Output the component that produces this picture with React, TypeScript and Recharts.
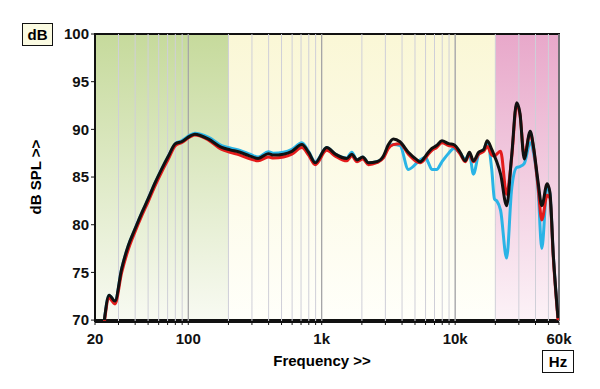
import React from 'react';
import {
  LineChart,
  Line,
  XAxis,
  YAxis,
  CartesianGrid,
  ReferenceArea,
  ReferenceLine,
} from 'recharts';

// frequency points (Hz)
const freqs = [
  23.5, 25.5, 28.2, 31.7, 35.5, 40, 45, 50, 56, 63, 71, 80, 89, 103, 112, 141, 178, 206, 244, 290,
  334, 398, 434, 517, 598, 710, 797, 894, 1090, 1265, 1540, 1680, 1840, 2030, 2240, 2580, 2900,
  3160, 3440, 3860, 4460, 5180, 5460, 6000, 6300, 6690, 7260, 7960, 8940, 9760, 10900, 11900,
  12800, 13700, 15000, 16400, 17400, 18800, 19700, 20500, 21900, 24300, 26500, 28900, 30600,
  32900, 36500, 38700, 41800, 44600, 48900, 51300, 54400, 59000,
];

// black trace
const blackDb = [
  70.0, 72.6, 72.0, 75.4, 77.8, 79.6, 81.3, 82.7, 84.3, 85.8, 87.2, 88.5, 88.7, 89.3, 89.5, 89.0, 88.1, 87.85, 87.6, 87.2,
  86.95, 87.45, 87.3, 87.4, 87.7, 88.4, 87.6, 86.5, 88.1, 87.4, 86.95, 87.4, 86.8, 87.1, 86.5, 86.6, 87.2,
  88.4, 89.0, 88.7, 87.6, 86.8, 86.6, 87.2, 87.6, 88.0, 88.3, 88.8, 88.5, 88.4, 87.6, 86.7,
  87.6, 86.7, 87.6, 87.9, 88.8, 87.9, 87.2, 86.6, 85.3, 82.0, 87.2, 92.8, 91.7,
  86.9, 89.8, 88.1, 84.5, 82.0, 84.3, 83.4, 76.8, 70.2,
];

// red trace
const redDb = [
  69.8, 72.3, 71.7, 75.0, 77.4, 79.3, 81.0, 82.4, 84.0, 85.5, 86.9, 88.3, 88.6, 89.2, 89.4, 88.9, 87.9, 87.6, 87.3, 86.9,
  86.7, 87.1, 87.0, 87.1, 87.4, 88.1, 87.3, 86.3, 87.8, 87.2, 86.7, 87.2, 86.6, 86.9, 86.3, 86.5, 87.0,
  88.0, 88.4, 88.5, 87.4, 86.6, 86.5, 87.0, 87.4, 87.8, 88.1, 88.6, 88.3, 88.2, 87.4, 86.6,
  87.4, 86.6, 87.4, 87.7, 88.2, 87.3, 87.2, 87.4, 87.7, 83.2, 87.0, 92.6, 91.5,
  87.3, 89.6, 88.0, 84.0, 80.5, 83.1, 82.8, 76.5, 70.0,
];

// cyan trace
const cyanDb = [
  70.0, 72.6, 72.0, 75.4, 77.8, 79.6, 81.3, 82.7, 84.3, 85.8, 87.2, 88.5, 88.8, 89.4, 89.6, 89.2, 88.3, 88.05, 87.8, 87.4,
  87.1, 87.65, 87.5, 87.6, 87.9, 88.6, 87.7, 86.6, 88.1, 87.4, 87.0, 87.6, 86.8, 87.1, 86.5, 86.6, 87.1,
  88.2, 88.4, 88.3, 85.8, 86.5, 86.8, 87.05, 86.5, 85.8, 85.8, 86.6, 87.5, 88.0, 87.5, 86.9,
  87.4, 85.3, 87.4, 87.9, 88.6, 85.8, 82.7, 82.5, 81.5, 76.5, 83.75, 86.0, 86.1,
  86.4, 88.6, 87.5, 83.75, 77.5, 84.1, 83.2, 76.8, 70.2,
];

const yTicks = [70, 75, 80, 85, 90, 95, 100];
const xTicks = [
  20, 30, 40, 50, 60, 70, 80, 90, 100, 200, 300, 400, 500, 600, 700, 800, 900, 1000,
  2000, 3000, 4000, 5000, 6000, 7000, 8000, 9000, 10000, 20000, 30000, 40000, 50000, 60000,
];
const majorFreqs = [100, 1000, 10000];
const xLabels: Record<number, string> = { 20: '20', 100: '100', 1000: '1k', 10000: '10k', 60000: '60k' };

const data = freqs.map((f, i) => ({ f, black: blackDb[i], red: redDb[i], cyan: cyanDb[i] }));

const font = "'Liberation Sans', Arial, sans-serif";

export default function App() {
  return (
    <div style={{ position: 'absolute', left: 0, top: 0, width: 600, height: 389, background: '#fff', fontFamily: font }}>
      <LineChart width={600} height={389} data={data} margin={{ top: 34, right: 41, bottom: 0, left: 35 }}>
        <defs>
          <linearGradient id="gGreen" x1="0" y1="0" x2="0" y2="1">
            <stop offset="0%" stopColor="#c6da9c" />
            <stop offset="100%" stopColor="#f8faf2" />
          </linearGradient>
          <linearGradient id="gYellow" x1="0" y1="0" x2="0" y2="1">
            <stop offset="0%" stopColor="#faf7d6" />
            <stop offset="100%" stopColor="#fffffa" />
          </linearGradient>
          <linearGradient id="gPink" x1="0" y1="0" x2="0" y2="1">
            <stop offset="0%" stopColor="#e8a8ca" />
            <stop offset="100%" stopColor="#fcf2f7" />
          </linearGradient>
        </defs>
        <XAxis
          dataKey="f"
          type="number"
          scale="log"
          domain={[20, 60000]}
          allowDataOverflow
          ticks={xTicks}
          interval={0}
          tickFormatter={(v: number) => xLabels[v] ?? ''}
          tick={{ fontSize: 15, fontWeight: 'bold', fill: '#111', fontFamily: font }}
          tickSize={3}
          tickMargin={8}
          tickLine={{ stroke: '#111' }}
          axisLine={{ stroke: '#111', strokeWidth: 2 }}
          height={67}
        />
        <YAxis
          type="number"
          domain={[70, 100]}
          ticks={yTicks}
          interval={0}
          tick={{ fontSize: 15, fontWeight: 'bold', fill: '#111', fontFamily: font }}
          tickSize={4}
          tickLine={{ stroke: '#111' }}
          axisLine={{ stroke: '#111', strokeWidth: 2 }}
          width={60}
        />
        <ReferenceArea x1={20} x2={200} y1={70} y2={100} fill="url(#gGreen)" fillOpacity={1} stroke="none" />
        <ReferenceArea x1={200} x2={20000} y1={70} y2={100} fill="url(#gYellow)" fillOpacity={1} stroke="none" />
        <ReferenceArea x1={20000} x2={60000} y1={70} y2={100} fill="url(#gPink)" fillOpacity={1} stroke="none" />
        {xTicks.map((f) => (
          <ReferenceLine key={f} x={f} stroke="#cfcfd8" strokeWidth={1} />
        ))}
        {majorFreqs.map((f) => (
          <ReferenceLine key={'m' + f} x={f} stroke="#9a9a9a" strokeWidth={1} />
        ))}
        <CartesianGrid vertical={false} stroke="#9a9a9a" strokeWidth={1} />
        <ReferenceArea x1={20} x2={60000} y1={70} y2={100} fill="none" stroke="#111" strokeWidth={2} />
        <Line dataKey="cyan" type="monotone" stroke="#2ab4e6" strokeWidth={3} dot={false} isAnimationActive={false} />
        <Line dataKey="red" type="monotone" stroke="#e31b1b" strokeWidth={3} dot={false} isAnimationActive={false} />
        <Line dataKey="black" type="monotone" stroke="#111" strokeWidth={3} dot={false} isAnimationActive={false} />
      </LineChart>
      <div
        style={{
          position: 'absolute', left: 22, top: 23, width: 29, height: 21, border: '1px solid #111',
          background: '#fbfbe2', fontSize: 15, fontWeight: 'bold', textAlign: 'center', lineHeight: '21px',
        }}
      >
        dB
      </div>
      <div
        style={{
          position: 'absolute', left: 542, top: 350, width: 30, height: 21, border: '1px solid #111',
          background: '#fff', fontSize: 15, fontWeight: 'bold', textAlign: 'center', lineHeight: '21px',
        }}
      >
        Hz
      </div>
      <div
        style={{
          position: 'absolute', left: 222, top: 351, width: 200, textAlign: 'center',
          fontSize: 15, fontWeight: 'bold', lineHeight: '20px',
        }}
      >
        Frequency &gt;&gt;
      </div>
      <div
        style={{
          position: 'absolute', left: 36, top: 177, width: 120, marginLeft: -60, marginTop: -10,
          transform: 'rotate(-90deg)', textAlign: 'center', fontSize: 15, fontWeight: 'bold', lineHeight: '20px',
        }}
      >
        dB SPL &gt;&gt;
      </div>
    </div>
  );
}
